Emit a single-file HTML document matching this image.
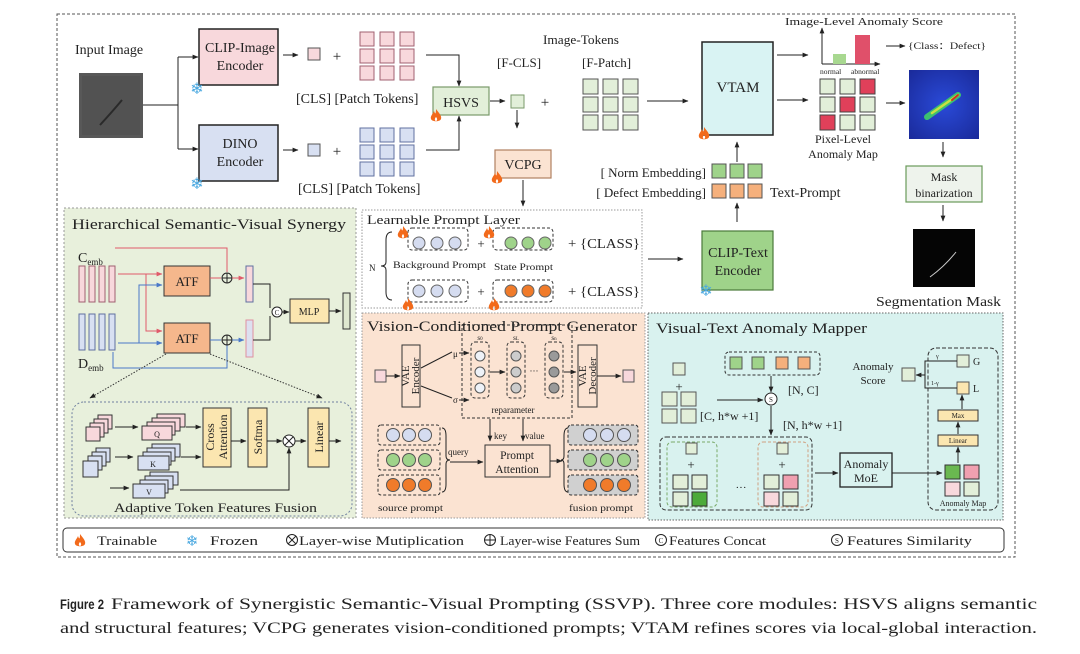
<!DOCTYPE html>
<html><head><meta charset="utf-8"><style>
html,body{margin:0;padding:0;background:#fff;width:1080px;height:654px;overflow:hidden}
svg{display:block}
text{font-family:"Liberation Serif",serif;fill:#222}
</style></head><body>
<svg width="1080" height="654" viewBox="0 0 1080 654" xmlns="http://www.w3.org/2000/svg">
<defs>
<marker id="a" viewBox="0 0 10 10" refX="9" refY="5" markerWidth="6" markerHeight="6" orient="auto-start-reverse"><path d="M0,1L10,5L0,9z" fill="#222"/></marker>
<marker id="ar" viewBox="0 0 10 10" refX="9" refY="5" markerWidth="6" markerHeight="6" orient="auto"><path d="M0,1L10,5L0,9z" fill="#e05a6a"/></marker>
<marker id="ab" viewBox="0 0 10 10" refX="9" refY="5" markerWidth="6" markerHeight="6" orient="auto"><path d="M0,1L10,5L0,9z" fill="#4a78c8"/></marker>
<g id="fl"><path d="M0,-7 C3,-3 6,0 5,3 C4,6 -4,6 -5,3 C-6,0 -3,-2 -2,-5 C-1,-2 0,-1 0,-7Z M0,1 C2,3 1,5 0,5 C-1,5 -2,3 0,1Z" fill="#f26a1b" fill-rule="evenodd"/></g>
<radialGradient id="hm" cx="0.5" cy="0.5" r="0.7"><stop offset="0" stop-color="#2a4ad8"/><stop offset="1" stop-color="#1a2a9a"/></radialGradient>
</defs>

<rect x="57" y="14" width="958" height="543" fill="none" stroke="#555" stroke-dasharray="3,2"/>

<text x="75" y="54" font-size="14">Input Image</text>
<rect x="79" y="73" width="64" height="65" fill="#585858"/>
<rect x="82" y="76" width="58" height="59" fill="#4e4e4e" opacity="0.6"/>
<path d="M100,125 Q112,112 122,100" stroke="#2a2a2a" stroke-width="2" fill="none"/>
<path d="M143,105H178M178,57V149" stroke="#222" fill="none"/>
<path d="M178,57H198" stroke="#222" marker-end="url(#a)"/>
<path d="M178,149H198" stroke="#222" marker-end="url(#a)"/>

<rect x="199" y="29" width="79" height="56" fill="#f8d8dc" stroke="#222" stroke-width="1.5"/>
<text x="240" y="52" font-size="14" text-anchor="middle">CLIP-Image</text>
<text x="240" y="70" font-size="14" text-anchor="middle">Encoder</text>
<rect x="199" y="125" width="79" height="56" fill="#d8e0f2" stroke="#222" stroke-width="1.5"/>
<text x="240" y="148" font-size="14" text-anchor="middle">DINO</text>
<text x="240" y="166" font-size="14" text-anchor="middle">Encoder</text>
<text x="197" y="94" font-size="16" text-anchor="middle" style="fill:#4aa8e0">❄</text>
<text x="197" y="189" font-size="16" text-anchor="middle" style="fill:#4aa8e0">❄</text>

<path d="M283,55H298" stroke="#222" marker-end="url(#a)"/>
<path d="M283,150H298" stroke="#222" marker-end="url(#a)"/>
<rect x="308" y="48" width="12" height="12" fill="#f8d8dc" stroke="#555"/>
<rect x="308" y="144" width="12" height="12" fill="#d8e0f2" stroke="#555"/>
<text x="337" y="61" font-size="15" text-anchor="middle">+</text>
<text x="337" y="156" font-size="15" text-anchor="middle">+</text>
<g fill="#f8d8dc" stroke="#a06070">
<rect x="360" y="32" width="14" height="14"/><rect x="380" y="32" width="14" height="14"/><rect x="400" y="32" width="14" height="14"/>
<rect x="360" y="49" width="14" height="14"/><rect x="380" y="49" width="14" height="14"/><rect x="400" y="49" width="14" height="14"/>
<rect x="360" y="66" width="14" height="14"/><rect x="380" y="66" width="14" height="14"/><rect x="400" y="66" width="14" height="14"/>
</g>
<g fill="#d8e0f2" stroke="#6070a0">
<rect x="360" y="128" width="14" height="14"/><rect x="380" y="128" width="14" height="14"/><rect x="400" y="128" width="14" height="14"/>
<rect x="360" y="145" width="14" height="14"/><rect x="380" y="145" width="14" height="14"/><rect x="400" y="145" width="14" height="14"/>
<rect x="360" y="162" width="14" height="14"/><rect x="380" y="162" width="14" height="14"/><rect x="400" y="162" width="14" height="14"/>
</g>
<text x="296" y="103" font-size="14">[CLS] [Patch Tokens]</text>
<text x="298" y="193" font-size="14">[CLS] [Patch Tokens]</text>
<path d="M426,55H459V86" stroke="#222" fill="none" marker-end="url(#a)"/>
<path d="M426,150H459V116" stroke="#222" fill="none" marker-end="url(#a)"/>
<rect x="433" y="87" width="56" height="28" fill="#e2efd9" stroke="#7a9a6a" stroke-width="1.2"/>
<text x="461" y="107" font-size="14" text-anchor="middle">HSVS</text>
<use href="#fl" x="436" y="116"/>
<path d="M490,101H505" stroke="#222" marker-end="url(#a)"/>
<rect x="511" y="95" width="13" height="13" fill="#e2efd9" stroke="#7a9a6a"/>
<text x="545" y="107" font-size="15" text-anchor="middle">+</text>
<path d="M517,110V128" stroke="#222" marker-end="url(#a)"/>
<rect x="495" y="150" width="56" height="28" fill="#fbe3d2" stroke="#b08060" stroke-width="1.2"/>
<text x="523" y="169" font-size="14" text-anchor="middle">VCPG</text>
<use href="#fl" x="497" y="178"/>
<path d="M523,180V206" stroke="#222" marker-end="url(#a)"/>
<text x="543" y="44" font-size="13" textLength="76" lengthAdjust="spacingAndGlyphs">Image-Tokens</text>
<text x="497" y="67" font-size="13">[F-CLS]</text>
<text x="582" y="67" font-size="13">[F-Patch]</text>
<g fill="#e2efd9" stroke="#555">
<rect x="583" y="79" width="15" height="15"/><rect x="603" y="79" width="15" height="15"/><rect x="623" y="79" width="15" height="15"/>
<rect x="583" y="97" width="15" height="15"/><rect x="603" y="97" width="15" height="15"/><rect x="623" y="97" width="15" height="15"/>
<rect x="583" y="115" width="15" height="15"/><rect x="603" y="115" width="15" height="15"/><rect x="623" y="115" width="15" height="15"/>
</g>
<path d="M647,101H688" stroke="#222" marker-end="url(#a)"/>
<rect x="702" y="42" width="71" height="93" fill="#d9f3f3" stroke="#222" stroke-width="1.5"/>
<text x="738" y="92" font-size="15" text-anchor="middle">VTAM</text>
<use href="#fl" x="704" y="134"/>
<path d="M737,162V142" stroke="#222" marker-end="url(#a)"/>
<text x="706" y="177" font-size="13" text-anchor="end">[ Norm Embedding]</text>
<text x="706" y="197" font-size="13" text-anchor="end">[ Defect Embedding]</text>
<g fill="#9fd38a" stroke="#555"><rect x="712" y="164" width="14" height="14"/><rect x="730" y="164" width="14" height="14"/><rect x="748" y="164" width="14" height="14"/></g>
<g fill="#f5b07c" stroke="#555"><rect x="712" y="184" width="14" height="14"/><rect x="730" y="184" width="14" height="14"/><rect x="748" y="184" width="14" height="14"/></g>
<text x="770" y="197" font-size="14">Text-Prompt</text>
<path d="M737,222V203" stroke="#222" marker-end="url(#a)"/>
<rect x="702" y="231" width="71" height="59" fill="#9fd38a" stroke="#4a7a3a" stroke-width="1.2"/>
<text x="738" y="257" font-size="14" text-anchor="middle">CLIP-Text</text>
<text x="738" y="275" font-size="14" text-anchor="middle">Encoder</text>
<text x="706" y="296" font-size="16" text-anchor="middle" style="fill:#4aa8e0">❄</text>
<path d="M648,259H683" stroke="#222" marker-end="url(#a)"/>

<path d="M777,55H808" stroke="#222" marker-end="url(#a)"/>
<path d="M777,100H808" stroke="#222" marker-end="url(#a)"/>
<text x="785" y="25" font-size="11" textLength="158" lengthAdjust="spacingAndGlyphs">Image-Level Anomaly Score</text>
<path d="M822,64V28" stroke="#222" marker-end="url(#a)"/>
<path d="M822,64H880" stroke="#222" marker-end="url(#a)"/>
<rect x="833" y="54" width="13" height="10" fill="#a8d890"/>
<rect x="855" y="35" width="15" height="29" fill="#e0506a"/>
<text x="820" y="74" font-size="7.5">normal</text>
<text x="851" y="74" font-size="7.5">abnormal</text>
<path d="M886,46H905" stroke="#222" marker-end="url(#a)"/>
<text x="908" y="49" font-size="9" textLength="78" lengthAdjust="spacingAndGlyphs">{Class：Defect}</text>
<g stroke="#444">
<rect x="820" y="79" width="15" height="15" fill="#e2efd9"/><rect x="840" y="79" width="15" height="15" fill="#e2efd9"/><rect x="860" y="79" width="15" height="15" fill="#e0405a"/>
<rect x="820" y="97" width="15" height="15" fill="#e2efd9"/><rect x="840" y="97" width="15" height="15" fill="#e0405a"/><rect x="860" y="97" width="15" height="15" fill="#e2efd9"/>
<rect x="820" y="115" width="15" height="15" fill="#e0405a"/><rect x="840" y="115" width="15" height="15" fill="#e2efd9"/><rect x="860" y="115" width="15" height="15" fill="#e2efd9"/>
</g>
<text x="843" y="143" font-size="12" text-anchor="middle">Pixel-Level</text>
<text x="843" y="158" font-size="12" text-anchor="middle">Anomaly Map</text>
<path d="M886,103H905" stroke="#222" marker-end="url(#a)"/>
<rect x="909" y="70" width="70" height="69" fill="url(#hm)"/>
<path d="M927,117 L958,95" stroke="#3cc070" stroke-width="6" stroke-linecap="round"/>
<path d="M932,113 L958,95" stroke="#c8e040" stroke-width="2.5" stroke-linecap="round"/>
<path d="M952,100 L958,95" stroke="#d03020" stroke-width="2" stroke-linecap="round"/>
<path d="M943,142V157" stroke="#222" marker-end="url(#a)"/>
<rect x="906" y="166" width="76" height="36" fill="#eef3ec" stroke="#6a9a5a" stroke-width="1.2"/>
<text x="944" y="181" font-size="12" text-anchor="middle">Mask</text>
<text x="944" y="197" font-size="12" text-anchor="middle">binarization</text>
<path d="M943,205V221" stroke="#222" marker-end="url(#a)"/>
<rect x="913" y="229" width="62" height="58" fill="#050505"/>
<path d="M930,277 Q945,266 956,252" stroke="#ccc" stroke-width="1" fill="none"/>
<text x="876" y="306" font-size="14" textLength="125" lengthAdjust="spacingAndGlyphs">Segmentation Mask</text>

<!-- HSVS panel -->
<rect x="64" y="208" width="292" height="310" fill="#e8f0dc" stroke="#999" stroke-dasharray="2,2"/>
<text x="72" y="229" font-size="15" textLength="274" lengthAdjust="spacingAndGlyphs">Hierarchical Semantic-Visual Synergy</text>
<text x="78" y="262" font-size="14">C<tspan font-size="9" dy="3">emb</tspan></text>
<text x="78" y="368" font-size="14">D<tspan font-size="9" dy="3">emb</tspan></text>
<g fill="#f8d8dc" stroke="#a06070"><rect x="79" y="266" width="6" height="36"/><rect x="89" y="266" width="6" height="36"/><rect x="99" y="266" width="6" height="36"/><rect x="109" y="266" width="6" height="36"/></g>
<g fill="#d8e0f2" stroke="#6070a0"><rect x="79" y="314" width="6" height="36"/><rect x="89" y="314" width="6" height="36"/><rect x="99" y="314" width="6" height="36"/><rect x="109" y="314" width="6" height="36"/></g>
<path d="M115,248H227V272" stroke="#e05a6a" fill="none"/>
<path d="M118,274H162" stroke="#e05a6a" marker-end="url(#ar)"/>
<path d="M146,274V331H162" stroke="#e05a6a" fill="none" marker-end="url(#ar)"/>
<path d="M118,343H162" stroke="#4a78c8" marker-end="url(#ab)"/>
<path d="M139,343V285H162" stroke="#4a78c8" fill="none" marker-end="url(#ab)"/>
<path d="M113,352V368H227V345" stroke="#4a78c8" fill="none"/>
<rect x="164" y="266" width="46" height="30" fill="#f5b78c" stroke="#333"/>
<text x="187" y="286" font-size="13" text-anchor="middle">ATF</text>
<rect x="164" y="323" width="46" height="30" fill="#f5b78c" stroke="#333"/>
<text x="187" y="343" font-size="13" text-anchor="middle">ATF</text>
<path d="M210,278H221" stroke="#e05a6a"/>
<path d="M210,340H221" stroke="#4a78c8"/>
<circle cx="227" cy="278" r="5" fill="none" stroke="#222"/><path d="M222,278H232M227,273V283" stroke="#222"/>
<circle cx="227" cy="340" r="5" fill="none" stroke="#222"/><path d="M222,340H232M227,335V345" stroke="#222"/>
<path d="M232,278H244" stroke="#e05a6a" marker-end="url(#ar)"/>
<path d="M232,340H244" stroke="#4a78c8" marker-end="url(#ab)"/>
<rect x="246" y="266" width="7" height="36" fill="#f8d8dc" stroke="#6070a0"/>
<rect x="246" y="320" width="7" height="37" fill="#dde0f0" stroke="#e090a0"/>
<path d="M253,284H270V308M253,340H270V316" stroke="#222" fill="none"/>
<circle cx="277" cy="312" r="5" fill="#fff" stroke="#222"/><text x="277" y="315" font-size="7" text-anchor="middle">C</text>
<path d="M282,312H289" stroke="#222" marker-end="url(#a)"/>
<rect x="290" y="299" width="39" height="24" fill="#fbe6b0" stroke="#333"/>
<text x="309" y="315" font-size="10" text-anchor="middle">MLP</text>
<path d="M329,311H341" stroke="#222" marker-end="url(#a)"/>
<rect x="343" y="293" width="7" height="36" fill="#dfe8d0" stroke="#333"/>
<path d="M166,354L90,398" stroke="#333" stroke-dasharray="1.5,1.5" marker-end="url(#a)"/>
<path d="M210,354L322,398" stroke="#333" stroke-dasharray="1.5,1.5" marker-end="url(#a)"/>
<rect x="72" y="402" width="280" height="114" rx="12" fill="none" stroke="#7080a0" stroke-dasharray="2,2"/>
<g fill="#f8d8dc" stroke="#333"><rect x="98" y="415" width="14" height="14"/><rect x="94" y="419" width="14" height="14"/><rect x="90" y="423" width="14" height="14"/><rect x="86" y="427" width="14" height="14"/></g>
<g fill="#d8e0f2" stroke="#333"><rect x="96" y="448" width="14" height="14"/><rect x="92" y="452" width="14" height="14"/><rect x="88" y="456" width="14" height="14"/><rect x="83" y="461" width="15" height="16"/></g>
<path d="M115,427H138" stroke="#222" marker-end="url(#a)"/>
<path d="M115,457H133" stroke="#222" marker-end="url(#a)"/>
<path d="M110,488H129" stroke="#222" marker-end="url(#a)"/>
<g fill="#f8d8dc" stroke="#333"><rect x="157" y="414" width="28" height="13"/><rect x="152" y="418" width="28" height="13"/><rect x="147" y="422" width="28" height="13"/><rect x="142" y="426" width="30" height="14"/></g>
<text x="157" y="437" font-size="8" text-anchor="middle">Q</text>
<g fill="#d8e0f2" stroke="#333"><rect x="152" y="444" width="28" height="13"/><rect x="147" y="448" width="28" height="13"/><rect x="143" y="452" width="28" height="13"/><rect x="138" y="456" width="31" height="14"/></g>
<text x="153" y="467" font-size="8" text-anchor="middle">K</text>
<g fill="#d8e0f2" stroke="#333"><rect x="150" y="472" width="28" height="13"/><rect x="145" y="476" width="28" height="13"/><rect x="140" y="480" width="28" height="13"/><rect x="133" y="484" width="32" height="14"/></g>
<text x="149" y="495" font-size="8" text-anchor="middle">V</text>
<path d="M186,427H201" stroke="#222" marker-end="url(#a)"/>
<path d="M181,457H201" stroke="#222" marker-end="url(#a)"/>
<path d="M180,490H289V448" stroke="#222" fill="none" marker-end="url(#a)"/>
<rect x="203" y="408" width="28" height="59" fill="#fbe6b0" stroke="#333"/>
<text transform="translate(214,437) rotate(-90)" font-size="12" text-anchor="middle">Cross</text>
<text transform="translate(227,437) rotate(-90)" font-size="12" text-anchor="middle">Attention</text>
<path d="M231,441H246" stroke="#222" marker-end="url(#a)"/>
<rect x="248" y="408" width="19" height="59" fill="#fbe6b0" stroke="#333"/>
<text transform="translate(262,437) rotate(-90)" font-size="12" text-anchor="middle">Softma</text>
<path d="M267,441H282" stroke="#222" marker-end="url(#a)"/>
<circle cx="289" cy="441" r="6" fill="#fff" stroke="#222"/><path d="M285,437L293,445M293,437L285,445" stroke="#222"/>
<path d="M295,441H306" stroke="#222" marker-end="url(#a)"/>
<rect x="308" y="408" width="21" height="59" fill="#fbe6b0" stroke="#333"/>
<text transform="translate(323,437) rotate(-90)" font-size="12" text-anchor="middle">Linear</text>
<path d="M329,441H341" stroke="#222" marker-end="url(#a)"/>
<text x="114" y="512" font-size="13" textLength="203" lengthAdjust="spacingAndGlyphs">Adaptive Token Features Fusion</text>

<!-- Learnable prompt layer -->
<rect x="362" y="210" width="280" height="98" fill="#fff" stroke="#999" stroke-dasharray="1.5,1.5"/>
<text x="367" y="224" font-size="13" textLength="153" lengthAdjust="spacingAndGlyphs">Learnable Prompt Layer</text>
<text x="369" y="271" font-size="9">N</text>
<path d="M392,232Q386,232 386,240V262Q386,266 381,266Q386,266 386,270V292Q386,300 392,300" stroke="#222" fill="none"/>
<g fill="none" stroke="#333" stroke-dasharray="3,2"><rect x="408" y="228" width="60" height="22" rx="4"/><rect x="493" y="228" width="60" height="22" rx="4"/><rect x="408" y="280" width="60" height="22" rx="4"/><rect x="493" y="280" width="60" height="22" rx="4"/></g>
<g stroke="#666"><circle cx="419" cy="243" r="6" fill="#d5dcf0"/><circle cx="437" cy="243" r="6" fill="#d5dcf0"/><circle cx="455" cy="243" r="6" fill="#d5dcf0"/>
<circle cx="511" cy="243" r="6" fill="#9fd38a"/><circle cx="528" cy="243" r="6" fill="#9fd38a"/><circle cx="545" cy="243" r="6" fill="#9fd38a"/>
<circle cx="419" cy="291" r="6" fill="#d5dcf0"/><circle cx="437" cy="291" r="6" fill="#d5dcf0"/><circle cx="455" cy="291" r="6" fill="#d5dcf0"/>
<circle cx="511" cy="291" r="6" fill="#f07b2a"/><circle cx="528" cy="291" r="6" fill="#f07b2a"/><circle cx="545" cy="291" r="6" fill="#f07b2a"/></g>
<text x="481" y="248" font-size="13" text-anchor="middle">+</text>
<text x="481" y="296" font-size="13" text-anchor="middle">+</text>
<text x="568" y="248" font-size="14" textLength="72" lengthAdjust="spacingAndGlyphs">+ {CLASS}</text>
<text x="568" y="296" font-size="14" textLength="72" lengthAdjust="spacingAndGlyphs">+ {CLASS}</text>
<text x="393" y="268" font-size="9.5" textLength="93" lengthAdjust="spacingAndGlyphs">Background Prompt</text>
<text x="494" y="270" font-size="9.5" textLength="59" lengthAdjust="spacingAndGlyphs">State Prompt</text>
<use href="#fl" x="403" y="233"/><use href="#fl" x="489" y="233"/><use href="#fl" x="408" y="305"/><use href="#fl" x="494" y="305"/>

<!-- VCPG panel -->
<rect x="362" y="313" width="283" height="205" fill="#fbe3d2" stroke="#999" stroke-dasharray="1.5,1.5"/>
<text x="367" y="331" font-size="15" textLength="270" lengthAdjust="spacingAndGlyphs">Vision-Conditioned Prompt Generator</text>
<rect x="375" y="370" width="11" height="12" fill="#f8d8dc" stroke="#555"/>
<path d="M386,376H400" stroke="#222" marker-end="url(#a)"/>
<rect x="402" y="345" width="18" height="62" fill="#fbe3d2" stroke="#333"/>
<text transform="translate(409,376) rotate(-90)" font-size="11" text-anchor="middle">VAE</text>
<text transform="translate(419,376) rotate(-90)" font-size="11" text-anchor="middle">Encoder</text>
<path d="M421,368L452,352" stroke="#222"/><path d="M421,386L452,398" stroke="#222"/>
<text x="453" y="357" font-size="9">μ</text><text x="453" y="403" font-size="9">σ</text>
<path d="M459,353H469" stroke="#222" marker-end="url(#a)"/><path d="M459,400H469" stroke="#222" marker-end="url(#a)"/>
<rect x="462" y="325" width="110" height="93" fill="none" stroke="#333" stroke-dasharray="3,2"/>
<g fill="none" stroke="#333" stroke-dasharray="3,2"><rect x="471" y="342" width="18" height="56" rx="4"/><rect x="507" y="342" width="18" height="56" rx="4"/><rect x="545" y="342" width="18" height="56" rx="4"/></g>
<g stroke="#555"><circle cx="480" cy="356" r="5" fill="#eef2f8"/><circle cx="480" cy="372" r="5" fill="#eef2f8"/><circle cx="480" cy="388" r="5" fill="#eef2f8"/>
<circle cx="516" cy="356" r="5" fill="#cccccc"/><circle cx="516" cy="372" r="5" fill="#cccccc"/><circle cx="516" cy="388" r="5" fill="#cccccc"/>
<circle cx="554" cy="356" r="5" fill="#9a9a9a"/><circle cx="554" cy="372" r="5" fill="#9a9a9a"/><circle cx="554" cy="388" r="5" fill="#9a9a9a"/></g>
<text x="480" y="340" font-size="7" text-anchor="middle">s<tspan font-size="5">0</tspan></text>
<text x="516" y="340" font-size="7" text-anchor="middle">s<tspan font-size="5">L</tspan></text>
<text x="554" y="340" font-size="7" text-anchor="middle">s<tspan font-size="5">n</tspan></text>
<path d="M490,372H505" stroke="#222" marker-end="url(#a)"/>
<text x="534" y="374" font-size="9" text-anchor="middle">···</text>
<path d="M564,372H576" stroke="#222" marker-end="url(#a)"/>
<text x="513" y="413" font-size="9" text-anchor="middle">reparameter</text>
<rect x="578" y="345" width="19" height="62" fill="#fbe3d2" stroke="#333"/>
<text transform="translate(586,376) rotate(-90)" font-size="11" text-anchor="middle">VAE</text>
<text transform="translate(596,376) rotate(-90)" font-size="11" text-anchor="middle">Decoder</text>
<path d="M597,376H621" stroke="#222" marker-end="url(#a)"/>
<rect x="623" y="370" width="11" height="12" fill="#f8d8dc" stroke="#555"/>
<path d="M490,419V441" stroke="#222" marker-end="url(#a)"/><path d="M523,419V441" stroke="#222" marker-end="url(#a)"/>
<text x="494" y="439" font-size="9">key</text><text x="525" y="439" font-size="9">value</text>
<rect x="485" y="445" width="65" height="32" fill="#fbe3d2" stroke="#333"/>
<text x="517" y="459" font-size="11.5" text-anchor="middle">Prompt</text>
<text x="517" y="473" font-size="11.5" text-anchor="middle">Attention</text>
<g fill="none" stroke="#333" stroke-dasharray="3,2"><rect x="378" y="425" width="62" height="20" rx="3"/><rect x="378" y="450" width="62" height="20" rx="3"/><rect x="378" y="475" width="62" height="20" rx="3"/></g>
<g fill="#d0d0d0" stroke="#333" stroke-dasharray="3,2"><rect x="568" y="425" width="70" height="20" rx="3"/><rect x="568" y="450" width="70" height="20" rx="3"/><rect x="568" y="475" width="70" height="20" rx="3"/></g>
<g stroke="#555"><circle cx="393" cy="435" r="6.5" fill="#d5dcf0"/><circle cx="409" cy="435" r="6.5" fill="#d5dcf0"/><circle cx="425" cy="435" r="6.5" fill="#d5dcf0"/>
<circle cx="393" cy="460" r="6.5" fill="#9fd38a"/><circle cx="409" cy="460" r="6.5" fill="#9fd38a"/><circle cx="425" cy="460" r="6.5" fill="#9fd38a"/>
<circle cx="393" cy="485" r="6.5" fill="#f07b2a"/><circle cx="409" cy="485" r="6.5" fill="#f07b2a"/><circle cx="425" cy="485" r="6.5" fill="#f07b2a"/>
<circle cx="590" cy="435" r="6.5" fill="#d5dcf0"/><circle cx="607" cy="435" r="6.5" fill="#d5dcf0"/><circle cx="624" cy="435" r="6.5" fill="#d5dcf0"/>
<circle cx="590" cy="460" r="6.5" fill="#9fd38a"/><circle cx="607" cy="460" r="6.5" fill="#9fd38a"/><circle cx="624" cy="460" r="6.5" fill="#9fd38a"/>
<circle cx="590" cy="485" r="6.5" fill="#f07b2a"/><circle cx="607" cy="485" r="6.5" fill="#f07b2a"/><circle cx="624" cy="485" r="6.5" fill="#f07b2a"/></g>
<path d="M442,428Q446,428 446,436V456Q446,460 450,460Q446,460 446,464V484Q446,492 442,492" stroke="#222" fill="none"/>
<text x="448" y="455" font-size="9">query</text>
<path d="M450,462H483" stroke="#222" marker-end="url(#a)"/>
<path d="M550,461H562" stroke="#222" marker-end="url(#a)"/>
<path d="M568,428Q564,428 564,436V456Q564,460 561,460Q564,460 564,464V484Q564,492 568,492" stroke="#222" fill="none"/>
<text x="378" y="511" font-size="9.5" textLength="65" lengthAdjust="spacingAndGlyphs">source prompt</text>
<text x="569" y="511" font-size="9.5" textLength="64" lengthAdjust="spacingAndGlyphs">fusion prompt</text>

<!-- VTAM mapper panel -->
<rect x="648" y="313" width="355" height="207" fill="#d9f2ef" stroke="#666" stroke-dasharray="1.5,1.5"/>
<text x="656" y="333" font-size="15" textLength="211" lengthAdjust="spacingAndGlyphs">Visual-Text Anomaly Mapper</text>
<rect x="725" y="352" width="95" height="23" rx="4" fill="none" stroke="#333" stroke-dasharray="3,2"/>
<rect x="730" y="357" width="12" height="12" fill="#9fd38a" stroke="#555"/><rect x="752" y="357" width="12" height="12" fill="#9fd38a" stroke="#555"/>
<rect x="776" y="357" width="12" height="12" fill="#f5b07c" stroke="#555"/><rect x="798" y="357" width="12" height="12" fill="#f5b07c" stroke="#555"/>
<path d="M771,376V392" stroke="#222" marker-end="url(#a)"/>
<circle cx="771" cy="399" r="6" fill="#fff" stroke="#222"/><text x="771" y="402" font-size="7" text-anchor="middle">S</text>
<text x="788" y="394" font-size="12">[N, C]</text>
<rect x="673" y="363" width="12" height="12" fill="#e2efd9" stroke="#555"/>
<text x="679" y="391" font-size="13" text-anchor="middle">+</text>
<g fill="#e2efd9" stroke="#555"><rect x="662" y="392" width="15" height="14"/><rect x="681" y="392" width="15" height="14"/><rect x="662" y="409" width="15" height="14"/><rect x="681" y="409" width="15" height="14"/></g>
<path d="M717,400H763" stroke="#222" marker-end="url(#a)"/>
<text x="700" y="420" font-size="12">[C, h*w +1]</text>
<path d="M771,406V435" stroke="#222" marker-end="url(#a)"/>
<text x="783" y="429" font-size="12">[N, h*w +1]</text>
<rect x="660" y="437" width="152" height="73" rx="6" fill="none" stroke="#333" stroke-dasharray="4,2"/>
<rect x="667" y="442" width="50" height="65" rx="5" fill="none" stroke="#7aaa6a" stroke-dasharray="3,2"/>
<rect x="758" y="442" width="50" height="65" rx="5" fill="none" stroke="#d0a080" stroke-dasharray="3,2"/>
<rect x="686" y="443" width="11" height="11" fill="#e2efd9" stroke="#555"/>
<text x="691" y="469" font-size="13" text-anchor="middle">+</text>
<g stroke="#333"><rect x="673" y="475" width="15" height="14" fill="#e2efd9"/><rect x="692" y="475" width="15" height="14" fill="#e2efd9"/><rect x="673" y="492" width="15" height="14" fill="#e2efd9"/><rect x="692" y="492" width="15" height="14" fill="#4caa3a"/></g>
<text x="741" y="491" font-size="11" text-anchor="middle">···</text>
<rect x="777" y="443" width="11" height="11" fill="#e2efd9" stroke="#555"/>
<text x="782" y="469" font-size="13" text-anchor="middle">+</text>
<g stroke="#333"><rect x="764" y="475" width="15" height="14" fill="#e2efd9"/><rect x="783" y="475" width="15" height="14" fill="#f0a0b0"/><rect x="764" y="492" width="15" height="14" fill="#f8d8dc"/><rect x="783" y="492" width="15" height="14" fill="#e2efd9"/></g>
<path d="M815,473H838" stroke="#222" marker-end="url(#a)"/>
<rect x="840" y="453" width="52" height="34" fill="#d9f2ef" stroke="#222" stroke-width="1.3"/>
<text x="866" y="468" font-size="12" text-anchor="middle">Anomaly</text>
<text x="866" y="482" font-size="12" text-anchor="middle">MoE</text>
<path d="M892,473H942" stroke="#222" marker-end="url(#a)"/>
<rect x="928" y="348" width="70" height="162" rx="8" fill="none" stroke="#333" stroke-dasharray="4,2"/>
<g stroke="#333"><rect x="945" y="465" width="15" height="14" fill="#6ab850"/><rect x="964" y="465" width="15" height="14" fill="#f0a0b0"/><rect x="945" y="482" width="15" height="14" fill="#f8d8dc"/><rect x="964" y="482" width="15" height="14" fill="#e2efd9"/></g>
<text x="963" y="506" font-size="8" text-anchor="middle">Anomaly Map</text>
<path d="M958,463V447" stroke="#222" marker-end="url(#a)"/>
<rect x="938" y="435" width="40" height="11" fill="#fbe6b0" stroke="#333"/>
<text x="958" y="443" font-size="7" text-anchor="middle">Linear</text>
<path d="M958,434V422" stroke="#222" marker-end="url(#a)"/>
<rect x="938" y="410" width="40" height="11" fill="#fbe6b0" stroke="#333"/>
<text x="958" y="418" font-size="7" text-anchor="middle">Max</text>
<path d="M962,409V395" stroke="#222" marker-end="url(#a)"/>
<rect x="957" y="382" width="12" height="12" fill="#fbe6b0" stroke="#555"/>
<text x="973" y="392" font-size="10">L</text>
<rect x="957" y="355" width="12" height="12" fill="#e2efd9" stroke="#555"/>
<text x="973" y="365" font-size="10">G</text>
<path d="M957,361H925V388H957" stroke="#222" fill="none"/>
<text x="936" y="358" font-size="6">γ</text><text x="931" y="385" font-size="6">1-γ</text>
<path d="M925,375H916" stroke="#222" marker-end="url(#a)"/>
<rect x="902" y="368" width="13" height="13" fill="#e2efd9" stroke="#555"/>
<text x="873" y="370" font-size="11" text-anchor="middle">Anomaly</text>
<text x="873" y="384" font-size="11" text-anchor="middle">Score</text>

<!-- legend -->
<rect x="63" y="528" width="941" height="24" rx="4" fill="#fff" stroke="#333"/>
<use href="#fl" x="80" y="541"/>
<text x="97" y="545" font-size="13" textLength="60" lengthAdjust="spacingAndGlyphs">Trainable</text>
<text x="192" y="546" font-size="15" text-anchor="middle" style="fill:#4aa8e0">❄</text>
<text x="210" y="545" font-size="13" textLength="48" lengthAdjust="spacingAndGlyphs">Frozen</text>
<circle cx="292" cy="540" r="5.5" fill="none" stroke="#222"/><path d="M288,536L296,544M296,536L288,544" stroke="#222"/>
<text x="299" y="545" font-size="13" textLength="165" lengthAdjust="spacingAndGlyphs">Layer-wise Mutiplication</text>
<circle cx="490" cy="540" r="5.5" fill="none" stroke="#222"/><path d="M484.5,540H495.5M490,534.5V545.5" stroke="#222"/>
<text x="500" y="545" font-size="13" textLength="140" lengthAdjust="spacingAndGlyphs">Layer-wise Features Sum</text>
<circle cx="661" cy="540" r="5.5" fill="none" stroke="#222"/><text x="661" y="543" font-size="7" text-anchor="middle">C</text>
<text x="669" y="545" font-size="13" textLength="97" lengthAdjust="spacingAndGlyphs">Features Concat</text>
<circle cx="837" cy="540" r="5.5" fill="none" stroke="#222"/><text x="837" y="543" font-size="7" text-anchor="middle">S</text>
<text x="847" y="545" font-size="13" textLength="125" lengthAdjust="spacingAndGlyphs">Features Similarity</text>

<!-- caption -->
<text x="60" y="609" font-size="14" font-weight="bold" textLength="44" lengthAdjust="spacingAndGlyphs" style="font-family:'Liberation Sans',sans-serif">Figure 2</text>
<text x="111" y="609" font-size="16" textLength="926" lengthAdjust="spacingAndGlyphs">Framework of Synergistic Semantic-Visual Prompting (SSVP). Three core modules: HSVS aligns semantic</text>
<text x="60" y="633" font-size="16" textLength="977" lengthAdjust="spacingAndGlyphs">and structural features; VCPG generates vision-conditioned prompts; VTAM refines scores via local-global interaction.</text>
</svg>
</body></html>
